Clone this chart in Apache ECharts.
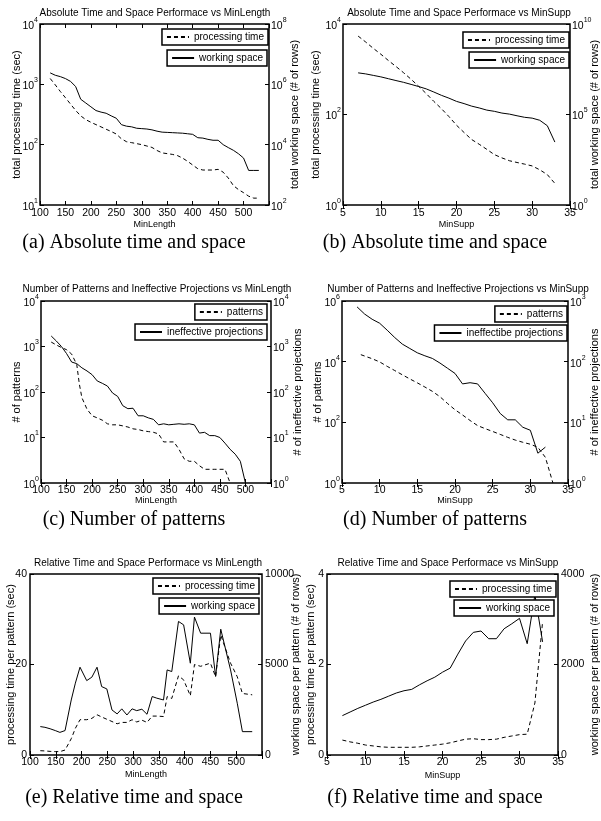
<!DOCTYPE html>
<html><head><meta charset="utf-8">
<script src="https://cdn.jsdelivr.net/npm/echarts@6/dist/echarts.min.js"></script>
<style>html,body{margin:0;padding:0;background:#fff}#c{width:601px;height:821px}</style>
</head><body><div id="c"></div>
<script>
// ================= DATA =================
// (a) Absolute time and space vs MinLength
const aMinLength = [120,130,140,150,160,170,180,190,200,210,220,230,240,250,260,270,280,290,300,310,320,330,340,350,360,370,380,390,400,410,420,430,440,450,460,470,480,490,500,510,520,530];
const aProcTime  = [1250,980,760,600,470,370,300,260,235,215,197,180,165,150,125,112,108,104,100,95,90,80,73,71,69,66,60,53,46,40,38,38,38,39,35,28,21,18,16,14,13,13];
const aWorkSpace = [2.4e6,2.0e6,1.8e6,1.55e6,1.25e6,8.5e5,3.2e5,2.4e5,1.8e5,1.35e5,1.2e5,1.1e5,9e4,7.5e4,4.6e4,4.1e4,3.9e4,3.5e4,3.4e4,3.3e4,3.1e4,2.8e4,2.6e4,2.55e4,2.5e4,2.45e4,2.4e4,2.3e4,2.2e4,1.7e4,1.65e4,1.5e4,1.4e4,1.4e4,1.0e4,8e3,6.5e3,5e3,3.6e3,1.4e3,1.4e3,1.4e3];

// (b) Absolute time and space vs MinSupp
const bMinSupp   = [7,8,9,10,11,12,13,14,15,16,17,18,19,20,21,22,23,24,25,26,27,28,29,30,31,32,33];
const bProcTime  = [5400,4000,2900,2150,1560,1150,840,600,420,290,195,135,90,58,40,28,22,17,13,11,9.5,8.7,8.0,7.3,6.0,4.7,3.0];
const bWorkSpace = [2.0e7,1.75e7,1.45e7,1.2e7,9.5e6,7.5e6,6e6,4.6e6,3.5e6,2.6e6,1.75e6,1.15e6,8e5,5.3e5,4e5,2.9e5,2.3e5,1.75e5,1.5e5,1.2e5,1.05e5,8.5e4,7e4,6.3e4,4.8e4,2.4e4,3e3];

// (c) Number of patterns vs MinLength
const cMinLengthPat   = [120,130,140,150,160,170,175,180,190,200,210,220,230,240,250,260,270,280,290,300,310,320,330,340,350,360,370,380,390,400,410,420,430,440,450,460,470];
const cPatterns       = [1250,1080,950,850,680,400,150,75,42,30,27,24,20,19,19,18,17,15.5,15,14,13.5,13,12,8,8,8,5.5,3.4,3,3,2.4,2,2,2,2,2,1];
const cMinLengthIneff = [120,130,140,150,160,170,180,190,200,210,220,230,240,250,260,270,280,290,300,310,320,330,340,350,360,370,380,390,400,410,420,430,440,450,460,470,480,490,500];
const cIneffective    = [1700,1320,1000,700,455,420,340,290,240,175,155,135,95,80,50,43,44,30,30,27,25,19,20,19,19.5,20,19.5,20,19,12.5,13,11,11,10,7.5,5.5,4.3,3,1];

// (d) Number of patterns vs MinSupp
const dMinSuppPat   = [7.5,9,10,11,12,13,14,15,16,17,18,19,20,21,22,23,24,25,26,27,28,29,30,31,32,33];
const dPatterns     = [17000,12500,9800,7000,5100,3700,2700,2000,1460,1050,700,420,260,175,115,78,62,50,40,32,26,22,19,15,7,1];
const dMinSuppIneff = [7,8,9,10,11,12,13,14,15,16,17,18,19,20,21,22,23,24,25,26,27,28,29,30,31,32];
const dIneffective  = [800,610,500,430,330,250,195,165,140,125,113,95,78,64,43,45,43,30,21,14,11,11,8.3,7.4,3.1,3.9];

// (e) Relative time and space vs MinLength
const eMinLength = [120,129,139,149,158,168,180,188,197,210,220,230,239,249,259,269,278,288,298,307,317,327,337,346,359,366,375,388,398,411,419,431,450,460,470,489,502,512,531];
const eProcTime  = [0.95,0.9,0.8,0.75,0.75,1.1,3.6,5.9,7.8,7.8,8.1,8.9,8.4,7.9,7.4,6.9,7.2,7.2,7.8,7.3,7.7,7.2,8.6,8.6,8.5,12.9,12.5,17.5,16.6,13.1,20,19.6,20.3,17.3,26.5,20.3,17.3,13.6,13.3];
const eWorkSpace = [1570,1530,1450,1350,1250,1350,3040,3970,4850,4110,4300,4850,3780,3650,2490,2270,2550,2210,2550,2450,2530,2250,3230,3140,3040,4700,4610,7380,7190,5070,7620,6730,6730,4340,6950,4700,2860,1290,1290];

// (f) Relative time and space vs MinSupp
const fMinSupp   = [7,8,9,10,11,12,13,14,15,16,17,18,19,20,21,22,23,24,25,26,27,28,29,30,31,32,33];
const fProcTime  = [0.33,0.29,0.26,0.22,0.2,0.18,0.17,0.17,0.17,0.17,0.18,0.2,0.22,0.24,0.27,0.31,0.35,0.36,0.34,0.34,0.35,0.39,0.42,0.45,0.46,1.15,2.95];
const fWorkSpace = [870,950,1030,1100,1170,1230,1300,1370,1420,1450,1550,1640,1720,1830,1920,2230,2520,2710,2740,2570,2570,2790,2900,3020,2460,3540,2500];

// Texts
const plotTitles = [
  'Absolute Time and Space Performace vs MinLength',
  'Absolute Time and Space Performace vs MinSupp',
  'Number of Patterns and Ineffective Projections vs MinLength',
  'Number of Patterns and Ineffective Projections vs MinSupp',
  'Relative Time and Space Performace vs MinLength',
  'Relative Time and Space Performace vs MinSupp'
];
const captions = [
  '(a) Absolute time and space', '(b) Absolute time and space',
  '(c) Number of patterns', '(d) Number of patterns',
  '(e) Relative time and space', '(f) Relative time and space'
];
const xNames = ['MinLength','MinSupp','MinLength','MinSupp','MinLength','MinSupp'];
const yLeftNames = ['total processing time (sec)','total processing time (sec)','# of patterns','# of patterns','processing time per pattern (sec)','processing time per pattern (sec)'];
const yRightNames = ['total working space (# of rows)','total working space (# of rows)','# of ineffective projections','# of ineffective projections','working space per pattern (# of rows)','working space per pattern (# of rows)'];
const leftSeriesNames  = ['processing time','processing time','patterns','patterns','processing time','processing time'];
const rightSeriesNames = ['working space','working space','ineffective projections','ineffectibe projections','working space','working space'];

// ================= LAYOUT / STYLE =================
const FONT = '"Liberation Sans", Arial, Helvetica, sans-serif';
const SERIF = '"Liberation Serif", "Times New Roman", serif';

const grids = [
  {left:40, top:24, width:229, height:181},
  {left:343, top:24, width:233, height:181},
  {left:41, top:301, width:230, height:182},
  {left:342, top:301, width:231, height:182},
  {left:30, top:574, width:232, height:181},
  {left:327, top:574, width:231, height:181}
];
const xCfg = [
  {min:100,max:550,interval:50,hide:550,gap:15,margin:3},
  {min:5,max:35,interval:5,gap:15,margin:3},
  {min:100,max:550,interval:50,hide:550,gap:13,margin:2},
  {min:5,max:35,interval:5,gap:13,margin:2},
  {min:100,max:550,interval:50,hide:550,gap:15,margin:2},
  {min:5,max:35,interval:5,gap:16,margin:2}
];
const yLCfg = [
  {min:1,max:4,interval:1,log:true,gap:18},
  {min:0,max:4,interval:2,log:true,gap:22},
  {min:0,max:4,interval:1,log:true,gap:19},
  {min:0,max:6,interval:2,log:true,gap:19},
  {min:0,max:40,interval:20,gap:14},
  {min:0,max:4,interval:2,gap:11}
];
const yRCfg = [
  {min:2,max:8,interval:2,log:true,gap:20},
  {min:0,max:10,interval:5,log:true,gap:19},
  {min:0,max:4,interval:1,log:true,gap:21},
  {min:0,max:3,interval:1,log:true,gap:21},
  {min:0,max:10000,interval:5000,gap:28},
  {min:0,max:4000,interval:2000,gap:31}
];
const titlePos = [[155,13],[459,13],[157,289],[458,289],[148,563],[448,563]];
const captionPos = [[134,243],[435,243],[134,520],[435,520],[134,798],[435,798]];
const legendPos = [
  [{right:333,top:29,w:70},{right:334,top:50,w:70}],
  [{right:32,top:32,w:70},{right:32,top:52,w:70}],
  [{right:334,top:304},{right:334,top:324}],
  [{right:34,top:306},{right:34,top:325}],
  [{right:342,top:578,w:70},{right:342,top:598,w:70}],
  [{right:45,top:581,w:70},{right:47,top:600,w:70}]
];

const leftData = [
  [aMinLength,aProcTime],[bMinSupp,bProcTime],[cMinLengthPat,cPatterns],
  [dMinSuppPat,dPatterns],[eMinLength,eProcTime],[fMinSupp,fProcTime]
];
const rightData = [
  [aMinLength,aWorkSpace],[bMinSupp,bWorkSpace],[cMinLengthIneff,cIneffective],
  [dMinSuppIneff,dIneffective],[eMinLength,eWorkSpace],[fMinSupp,fWorkSpace]
];

const supRich = {
  b:{fontSize:10.5,fontFamily:FONT,color:'#000',padding:[4,0,0,0]},
  s:{fontSize:7,fontFamily:FONT,color:'#000',verticalAlign:'top'}
};

function pairs(xs, ys, log) {
  return xs.map((x,i)=>[x, log ? Math.log10(ys[i]) : ys[i]]);
}

const xAxes = [], yAxes = [], series = [], legends = [];
grids.forEach((g,p)=>{
  const xc = xCfg[p];
  xAxes.push({
    type:'value', gridIndex:p, min:xc.min, max:xc.max, interval:xc.interval, position:'bottom',
    name:xNames[p], nameLocation:'middle', nameGap:xc.gap, nameMoveOverlap:false,
    nameTextStyle:{fontSize:9,fontFamily:FONT,color:'#000'},
    axisLine:{show:false}, splitLine:{show:false},
    axisTick:{show:true,inside:true,length:4,lineStyle:{color:'#000',width:1}},
    axisLabel:{show:true,margin:xc.margin,fontSize:10.5,fontFamily:FONT,color:'#000',
      formatter:v=> (xc.hide!==undefined && v===xc.hide) ? '' : String(v)}
  });
  xAxes.push({
    type:'value', gridIndex:p, min:xc.min, max:xc.max, interval:xc.interval, position:'top',
    axisLine:{show:false}, splitLine:{show:false}, axisLabel:{show:false},
    axisTick:{show:true,inside:true,length:4,lineStyle:{color:'#000',width:1}}
  });
  [[yLCfg[p],'left',yLeftNames[p]],[yRCfg[p],'right',yRightNames[p]]].forEach(([yc,pos,nm])=>{
    yAxes.push({
      type:'value', gridIndex:p, min:yc.min, max:yc.max, interval:yc.interval, position:pos,
      name:nm, nameLocation:'middle', nameGap:yc.gap, nameMoveOverlap:false,
      nameTextStyle:{fontSize:11,fontFamily:FONT,color:'#000'},
      axisLine:{show:false}, splitLine:{show:false},
      axisTick:{show:true,inside:true,length:4,lineStyle:{color:'#000',width:1}},
      axisLabel:yc.log ? {show:true,margin:2,rich:supRich,formatter:v=>'{b|10}{s|'+v+'}'}
                       : {show:true,margin:3,fontSize:10.5,fontFamily:FONT,color:'#000',formatter:v=>String(v)}
    });
  });
  const logL = !!yLCfg[p].log, logR = !!yRCfg[p].log;
  series.push({
    type:'line', name:leftSeriesNames[p], xAxisIndex:2*p, yAxisIndex:2*p,
    data:pairs(leftData[p][0], leftData[p][1], logL),
    symbol:'none', showSymbol:false, z:2,
    lineStyle:{color:'#000',width:1,type:[4,3]}, itemStyle:{color:'#000'}
  });
  series.push({
    type:'line', name:rightSeriesNames[p], xAxisIndex:2*p, yAxisIndex:2*p+1,
    data:pairs(rightData[p][0], rightData[p][1], logR),
    symbol:'none', showSymbol:false, z:2,
    lineStyle:{color:'#000',width:1,type:'solid'}, itemStyle:{color:'#000'}
  });
  [leftSeriesNames[p], rightSeriesNames[p]].forEach((nm,k)=>{
    const lp = legendPos[p][k];
    const ts = {fontSize:10,fontFamily:FONT,color:'#000'};
    if (lp.w) ts.width = lp.w;
    legends.push({
      data:[nm], right:lp.right, top:lp.top, orient:'horizontal',
      itemWidth:22, itemHeight:8, itemGap:0, padding:[3,4,3,4],
      borderColor:'#000', borderWidth:1.5, backgroundColor:'#fff',
      itemStyle:{opacity:0},
      selectedMode:false, textStyle:ts, z:10
    });
  });
});

const graphics = [];
plotTitles.forEach((t,i)=>{
  graphics.push({type:'text', x:titlePos[i][0], y:titlePos[i][1], z:20,
    style:{text:t, fontSize:10, fontFamily:FONT, fill:'#000', align:'center', verticalAlign:'middle'}});
});
captions.forEach((t,i)=>{
  graphics.push({type:'text', x:captionPos[i][0], y:captionPos[i][1], z:20,
    style:{text:t, fontSize:20, fontFamily:SERIF, fill:'#000', align:'center', verticalAlign:'middle'}});
});

const option = {
  animation:false,
  backgroundColor:'#fff',
  grid: grids.map(g=>Object.assign({show:true,borderColor:'#000',borderWidth:1.5,containLabel:false}, g)),
  xAxis:xAxes, yAxis:yAxes, series:series, legend:legends, graphic:graphics
};
const chart = echarts.init(document.getElementById('c'), null, {renderer:'canvas'});
chart.setOption(option);
</script></body></html>
